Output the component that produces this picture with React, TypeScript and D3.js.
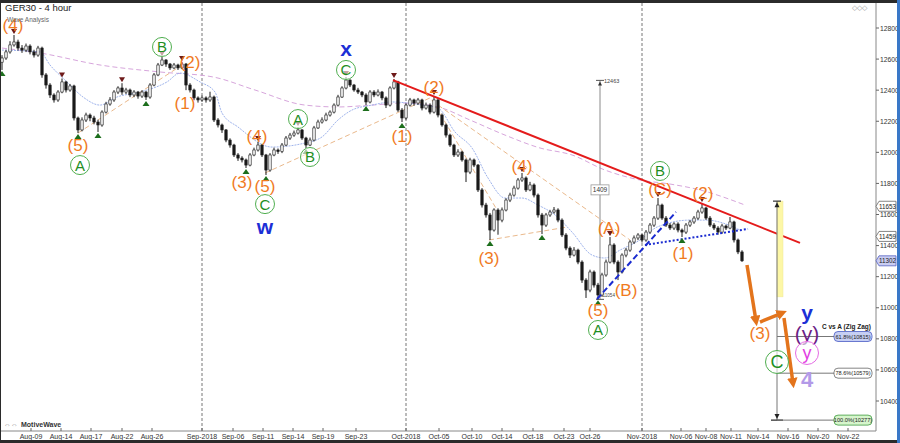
import React from 'react';
import * as d3 from 'd3';

const W = 900;
const H = 443;

// ---- candle data (4h bars, one entry per plotted bar) ----
const firstOpen = 12580;
const closes = [
  12607, 12646, 12691, 12710, 12671, 12658, 12684, 12646, 12626, 12671,
  12498, 12433, 12369, 12337, 12388, 12453, 12401, 12427, 12221, 12144,
  12208, 12240, 12221, 12195, 12176, 12259, 12311, 12337, 12388, 12414,
  12388, 12401, 12369, 12388, 12362, 12388, 12356, 12433, 12498, 12562,
  12594, 12568, 12543, 12562, 12543, 12568, 12433, 12401, 12350, 12337,
  12350, 12337, 12356, 12208, 12176, 12144, 12079, 12047, 11983, 11963,
  11951, 11918, 11983, 12015, 12047, 11983, 11886, 11983, 12015, 12005,
  12047, 12092, 12111, 12124, 12144, 12092, 12047, 12079, 12157, 12195,
  12208, 12240, 12259, 12304, 12356, 12414, 12465, 12433, 12401, 12388,
  12369, 12324, 12388, 12369, 12388, 12350, 12304, 12414, 12453, 12272,
  12221, 12304, 12337, 12317, 12337, 12285, 12304, 12259, 12337, 12240,
  12176, 12111, 12047, 11983, 12002, 11951, 11873, 11951, 11918, 11758,
  11661, 11597, 11500, 11629, 11564, 11629, 11693, 11725, 11770, 11822,
  11835, 11758, 11790, 11725, 11597, 11532, 11597, 11616, 11629, 11564,
  11468, 11384, 11339, 11371, 11294, 11178, 11114, 11230, 11146, 11082,
  11211, 11294, 11404, 11294, 11230, 11339, 11371, 11423, 11449, 11468,
  11436, 11487, 11532, 11577, 11661, 11577, 11532, 11513, 11539, 11500,
  11487, 11532, 11552, 11577, 11616, 11642, 11577, 11532, 11513, 11487,
  11526, 11513, 11552, 11436, 11359, 11302,
];
const highs = [
  12625, 12660, 12715, 12755, 12725, 12690, 12700, 12695, 12660, 12685,
  12680, 12510, 12445, 12380, 12400, 12475, 12460, 12440, 12435, 12230,
  12225, 12255, 12250, 12235, 12210, 12270, 12325, 12355, 12400, 12425,
  12445, 12415, 12410, 12400, 12395, 12400, 12395, 12445, 12510, 12575,
  12613, 12600, 12575, 12575, 12570, 12581, 12575, 12445, 12410, 12360,
  12365, 12360, 12390, 12365, 12220, 12185, 12150, 12090, 12055, 11995,
  11975, 11960, 11995, 12030, 12066, 12055, 11990, 11995, 12030, 12025,
  12060, 12105, 12125, 12140, 12163, 12150, 12100, 12095, 12170, 12210,
  12225, 12255, 12270, 12315, 12370, 12425, 12485, 12470, 12440, 12415,
  12395, 12380, 12400, 12400, 12405, 12395, 12360, 12425, 12472, 12460,
  12285, 12315, 12350, 12345, 12350, 12345, 12320, 12315, 12362, 12345,
  12250, 12185, 12120, 12055, 12020, 12010, 11960, 11965, 11960, 11925,
  11770, 11675, 11610, 11640, 11640, 11645, 11705, 11740, 11785, 11835,
  11867, 11845, 11810, 11800, 11735, 11610, 11610, 11630, 11648, 11640,
  11575, 11480, 11395, 11390, 11380, 11305, 11190, 11245, 11240, 11160,
  11225, 11310, 11455, 11415, 11305, 11350, 11385, 11435, 11465, 11480,
  11475, 11500, 11545, 11590, 11706, 11670, 11590, 11545, 11550, 11550,
  11510, 11545, 11565, 11590, 11630, 11674, 11650, 11590, 11545, 11525,
  11540, 11535, 11584, 11560, 11445, 11370,
];
const lows = [
  12530, 12595, 12635, 12680, 12655, 12640, 12645, 12630, 12610, 12615,
  12480, 12410, 12350, 12320, 12325, 12380, 12385, 12390, 12205, 12124,
  12135, 12195, 12200, 12180, 12131, 12165, 12250, 12300, 12325, 12375,
  12370, 12375, 12355, 12355, 12345, 12350, 12337, 12345, 12425, 12490,
  12555, 12550, 12530, 12535, 12530, 12535, 12400, 12385, 12335, 12320,
  12325, 12320, 12325, 12195, 12160, 12125, 12065, 12030, 11970, 11945,
  11935, 11899, 11910, 11975, 12005, 11970, 11854, 11875, 11975, 11990,
  11995, 12040, 12080, 12100, 12115, 12080, 12028, 12040, 12070, 12150,
  12185, 12200, 12230, 12250, 12295, 12350, 12405, 12420, 12390, 12375,
  12355, 12304, 12315, 12355, 12360, 12335, 12285, 12295, 12405, 12260,
  12195, 12210, 12295, 12300, 12305, 12270, 12275, 12245, 12250, 12225,
  12165, 12095, 12035, 11970, 11970, 11940, 11809, 11860, 11905, 11745,
  11645, 11580, 11436, 11490, 11470, 11550, 11620, 11680, 11715, 11760,
  11810, 11745, 11750, 11710, 11580, 11474, 11520, 11585, 11605, 11550,
  11455, 11370, 11320, 11330, 11280, 11160, 11063, 11100, 11130, 11054,
  11070, 11200, 11285, 11280, 11178, 11220, 11325, 11360, 11410, 11435,
  11420, 11425, 11475, 11520, 11565, 11565, 11520, 11500, 11500, 11485,
  11455, 11475, 11520, 11540, 11565, 11605, 11565, 11520, 11500, 11470,
  11475, 11500, 11505, 11420, 11345, 11295,
];

// ---- axes ----
const yTicks = [10400, 10600, 10800, 11000, 11200, 11400, 11600, 11800, 12000, 12200, 12400, 12600, 12800];
const xTickLabels = ['Aug-09', 'Aug-14', 'Aug-17', 'Aug-22', 'Aug-26', 'Sep-2018', 'Sep-06', 'Sep-11', 'Sep-14', 'Sep-19', 'Sep-23', 'Oct-2018', 'Oct-05', 'Oct-10', 'Oct-14', 'Oct-18', 'Oct-23', 'Oct-26', 'Nov-2018', 'Nov-06', 'Nov-08', 'Nov-11', 'Nov-14', 'Nov-16', 'Nov-20', 'Nov-22'];
const xTickBars = [7.25, 14.75, 22.25, 30, 37.5, 50, 57.75, 65.25, 72.75, 80.25, 88.5, 101, 109.25, 117.5, 125, 132.75, 140.5, 147, 160, 169.75, 176, 182.25, 189, 196.5, 204, 211.5];
const monthBars = [50, 101, 160];

// ---- moving averages ----
const maSlowBars = [0, 9.5, 24.5, 39.5, 52.75, 63.25, 75.75, 84, 92.5, 100.75, 109, 117, 125.75, 134.5, 142.5, 150.75, 159.5, 167, 174.5, 185.75];
const maSlowVals = [12671, 12639, 12562, 12517, 12485, 12401, 12304, 12292, 12304, 12317, 12292, 12208, 12111, 12028, 11983, 11886, 11822, 11796, 11758, 11661];
const maFastBars = [0, 9.5, 12, 16.25, 20.25, 24.5, 28.75, 34.5, 41.25, 44.5, 49.5, 53.25, 55, 59, 67.5, 75.75, 80, 84, 87.5, 92.5, 97.5, 105, 109, 113.25, 117.5, 121.5, 125.75, 130, 134, 138.25, 142.5, 147.5, 150.75, 154.5, 159.5, 163.75, 172, 176.25, 180.25, 184.5];
const maFastVals = [12658, 12646, 12562, 12453, 12356, 12304, 12356, 12388, 12453, 12510, 12453, 12388, 12253, 12163, 12034, 12060, 12099, 12208, 12272, 12304, 12324, 12304, 12285, 12131, 12028, 11835, 11706, 11706, 11661, 11597, 11487, 11339, 11320, 11371, 11436, 11519, 11564, 11564, 11545, 11500];

// ---- helper trend lines [bar0, price0, bar1, price1] ----
const helperLines = [
  [19, 12124, 45, 12562],
  [65.75, 11867, 107, 12350],
  [107.5, 12337, 124.5, 11597],
  [109, 12304, 157, 11436],
  [121.75, 11436, 141.5, 11520],
];
const redTrend = [97.75, 12465, 199.5, 11417];
const blueDashTrend = [148.75, 11056, 168.5, 11616];
const blueDotTrend = [160.75, 11404, 186.5, 11507];

// ---- pivot markers ----
const highMarkerBars = [3, 15, 30, 40, 45, 64, 74, 86, 98, 108, 130, 152, 164, 175];
const lowMarkerBars = [0, 19, 24, 36, 61, 66, 76, 91, 100, 122, 135, 149, 170];

// ---- wave labels: text, bar, price, style ----
const waveTexts = ['(4)', '(5)', 'A', 'B', '(2)', '(1)', '(3)', '(4)', '(5)', 'C', 'w', 'A', 'B', 'C', 'x', '(1)', '(2)', '(3)', '(4)', '(5)', 'A', '(A)', '(B)', 'B', '(C)', '(1)', '(2)', '(3)', 'y', '(y)', 'y', 'C', '4'];
const waveBars = [2.75, 19, 19.5, 40, 47, 45.75, 60, 63.75, 65.75, 65.75, 65.75, 74, 77, 86, 86, 100, 108, 121.75, 130, 149, 149, 151.75, 156, 164.5, 164.5, 170.25, 175.25, 189.5, 201.25, 201.25, 201.25, 193.75, 201.25];
const wavePrices = [12813, 12041, 11918, 12678, 12581, 12317, 11803, 12105, 11783, 11667, 11526, 12214, 11970, 12530, 12665, 12105, 12414, 11320, 11912, 10985, 10857, 11513, 11114, 11880, 11758, 11352, 11738, 10837, 10972, 10837, 10709, 10651, 10541];
const waveStyles = ['o', 'o', 'g', 'g', 'o', 'o', 'o', 'o', 'o', 'g', 'b', 'g', 'g', 'g', 'b', 'o', 'o', 'o', 'o', 'o', 'g', 'o', 'o', 'g', 'o', 'o', 'o', 'o', 'b', 'p', 'm', 'G', 'l'];

// ---- measurement / projection ----
const measureBar = 149.5;
const measureTop = 12463;
const measureLow = 11054;
const projBar = 193.75;
const projTop = 11686;
const projYellowLow = 11070;
const fibLevels = [10815, 10579, 10277];
const fibTexts = ['61.8%(10815)', '78.6%(10579)', '100.0%(10277)'];
const axisTags = [11653, 11459, 11302];
const arrowPaths = [
  [186.25, 11275, 188.5, 10915],
  [189.5, 10908, 195.0, 10966],
  [195.5, 10934, 197.75, 10515],
];

const FONT = 'Arial, "Liberation Sans", sans-serif';

export default function App() {
  const x = d3.scaleLinear().domain([0, 218]).range([2, 874]);
  const y = d3.scaleLinear().domain([10400, 12800]).range([401, 28]);
  const plotRight = 876;
  const axisY = 431;

  const candles = closes.map((c, i) => ({
    i,
    o: i === 0 ? firstOpen : closes[i - 1],
    c,
    h: highs[i],
    l: lows[i],
  }));

  const line = d3
    .line<[number, number]>()
    .x((d) => x(d[0]))
    .y((d) => y(d[1]))
    .curve(d3.curveMonotoneX);

  const slowPts = maSlowBars.map((b, i) => [b, maSlowVals[i]] as [number, number]);
  const fastPts = maFastBars.map((b, i) => [b, maFastVals[i]] as [number, number]);

  const seg = (s: number[]) => ({ x1: x(s[0]), y1: y(s[1]), x2: x(s[2]), y2: y(s[3]) });

  const styleOf = (s: string) => {
    switch (s) {
      case 'o':
        return { fill: '#f07a1e', size: 17, weight: 400 };
      case 'g':
        return { fill: '#1f8f1f', size: 15, weight: 400 };
      case 'G':
        return { fill: '#1f8f1f', size: 18, weight: 400 };
      case 'b':
        return { fill: '#1c2fd6', size: 21, weight: 700 };
      case 'p':
        return { fill: '#6b1f86', size: 21, weight: 400 };
      case 'm':
        return { fill: '#e23ee2', size: 18, weight: 400 };
      default:
        return { fill: '#b39ae8', size: 22, weight: 700 };
    }
  };

  return (
    <svg
      width={W}
      height={H}
      viewBox={`0 0 ${W} ${H}`}
      style={{ position: 'absolute', left: 0, top: 0, background: '#fff', fontFamily: FONT }}
    >
      <defs>
        <clipPath id="plot">
          <rect x={0} y={3} width={plotRight} height={axisY - 3} />
        </clipPath>
        <marker id="arrowO" viewBox="0 0 10 10" refX="5" refY="5" markerWidth="3" markerHeight="3" orient="auto">
          <path d="M0,0 L10,5 L0,10 z" fill="#e3741c" />
        </marker>
      </defs>
      <rect x={0} y={0} width={W} height={H} fill="#fff" />

      {/* month separators */}
      {monthBars.map((b) => (
        <line key={b} x1={x(b)} x2={x(b)} y1={3} y2={axisY} stroke="#777" strokeDasharray="3,2" strokeWidth={1} />
      ))}

      <g clipPath="url(#plot)">
        {/* moving averages */}
        <path d={line(slowPts) || ''} fill="none" stroke="#d7a6dc" strokeWidth={1} strokeDasharray="5,3" />
        <path d={line(fastPts) || ''} fill="none" stroke="#9fb4ec" strokeWidth={1} strokeDasharray="2,1" />
        {helperLines.map((s, k) => (
          <line key={k} {...seg(s)} stroke="#eab98c" strokeWidth={1} strokeDasharray="5,3" />
        ))}

        {/* measurement line */}
        <line x1={x(measureBar)} x2={x(measureBar)} y1={y(measureTop)} y2={y(measureLow)} stroke="#8a8a8a" strokeWidth={1} />
        <line x1={x(measureBar) - 4} x2={x(measureBar) + 4} y1={y(measureTop)} y2={y(measureTop)} stroke="#555" strokeWidth={1} />
        <path d={`M${x(measureBar) - 2},${y(measureTop) + 5} L${x(measureBar) + 2},${y(measureTop) + 5} L${x(measureBar)},${y(measureTop) + 1} z`} fill="#333" />
        <line x1={x(measureBar) - 4} x2={x(measureBar) + 4} y1={y(measureLow)} y2={y(measureLow)} stroke="#555" strokeWidth={1} />
        <text x={x(measureBar) + 4} y={y(measureTop) + 3} fontSize={5.5} fill="#444">{measureTop}</text>
        <text x={x(measureBar) + 2.5} y={y(measureLow) - 2.5} fontSize={4.6} fill="#444">{measureLow}</text>
        <rect x={x(measureBar) - 9} y={y((measureTop + measureLow) / 2) - 5} width={18} height={10} fill="#fff" stroke="#999" strokeWidth={0.8} />
        <text x={x(measureBar)} y={y((measureTop + measureLow) / 2) + 2.5} fontSize={6.5} fill="#333" textAnchor="middle">
          {measureTop - measureLow}
        </text>

        {/* candles */}
        {candles.map((d) => {
          const cx = x(d.i);
          const up = d.c >= d.o;
          const top = y(Math.max(d.o, d.c));
          const bot = y(Math.min(d.o, d.c));
          return (
            <g key={d.i}>
              <line x1={cx} x2={cx} y1={y(d.h)} y2={y(d.l)} stroke="#1a1a1a" strokeWidth={1} />
              <rect
                x={cx - 1.2}
                y={top}
                width={2.4}
                height={Math.max(1, bot - top)}
                fill={up ? '#f4f4f4' : '#1a1a1a'}
                stroke="#1a1a1a"
                strokeWidth={0.6}
              />
            </g>
          );
        })}

        {/* trend lines */}
        <line {...seg(redTrend)} stroke="#e41b1b" strokeWidth={2} />
        <line {...seg(blueDashTrend)} stroke="#1a2bd0" strokeWidth={2} strokeDasharray="6,3" />
        <line {...seg(blueDotTrend)} stroke="#1a2bd0" strokeWidth={2} strokeDasharray="2,2" />

        {/* pivot markers */}
        {highMarkerBars.map((b) => (
          <path key={'h' + b} d={`M${x(b) - 3},${y(highs[b]) - 6} L${x(b) + 3},${y(highs[b]) - 6} L${x(b)},${y(highs[b]) - 1} z`} fill="#6e1a1a" />
        ))}
        {lowMarkerBars.map((b) => (
          <path key={'l' + b} d={`M${x(b) - 3.5},${y(lows[b]) + 6} L${x(b) + 3.5},${y(lows[b]) + 6} L${x(b)},${y(lows[b]) + 1} z`} fill="#1c6e1c" />
        ))}

        {/* projection */}
        <rect x={x(projBar)} y={y(projTop)} width={6} height={y(projYellowLow) - y(projTop)} fill="#fdf7a6" stroke="#eee69a" strokeWidth={0.5} />
        <line x1={x(projBar)} x2={x(projBar)} y1={y(projTop)} y2={y(fibLevels[2])} stroke="#777" strokeWidth={1} />
        <line x1={x(projBar) - 4} x2={x(projBar) + 4} y1={y(projTop)} y2={y(projTop)} stroke="#333" strokeWidth={1.2} />
        <path d={`M${x(projBar) - 2.5},${y(projTop) + 6} L${x(projBar) + 2.5},${y(projTop) + 6} L${x(projBar)},${y(projTop) + 1} z`} fill="#222" />
        <path d={`M${x(projBar) - 2.5},${y(fibLevels[2]) - 6} L${x(projBar) + 2.5},${y(fibLevels[2]) - 6} L${x(projBar)},${y(fibLevels[2]) - 1} z`} fill="#222" />
        <line x1={x(projBar) - 6} x2={x(projBar) + 6} y1={y(fibLevels[2])} y2={y(fibLevels[2])} stroke="#222" strokeWidth={1.2} />
        {fibLevels.map((f) => (
          <line key={f} x1={x(projBar)} x2={834} y1={y(f)} y2={y(f)} stroke="#777" strokeWidth={1} />
        ))}
        {fibLevels.map((f, k) => {
          const fills = ['#c6cff4', '#ffffff', '#d6f5cc'];
          const strokes = ['#4a5cc4', '#666', '#3e9a3e'];
          return (
            <g key={'fl' + f}>
              <rect x={834} y={y(f) - 5} width={38} height={10} rx={4} fill={fills[k]} stroke={strokes[k]} strokeWidth={0.8} />
              <text x={853} y={y(f) + 2.2} fontSize={5.6} textAnchor="middle" fill="#222">{fibTexts[k]}</text>
            </g>
          );
        })}
        <text x={871} y={y(fibLevels[0]) - 8} fontSize={6.5} fontWeight={700} textAnchor="end" fill="#222">C vs A (Zig Zag)</text>

        {/* orange projection arrows */}
        {arrowPaths.map((s, k) => (
          <line key={'a' + k} {...seg(s)} stroke="#e3741c" strokeWidth={3.5} markerEnd="url(#arrowO)" />
        ))}

        {/* wave labels */}
        {waveTexts.map((t, k) => {
          const st = styleOf(waveStyles[k]);
          const cx = x(waveBars[k]);
          const cy = y(wavePrices[k]);
          const circ = waveStyles[k] === 'g' || waveStyles[k] === 'G' || waveStyles[k] === 'm';
          const r = waveStyles[k] === 'g' ? 9.5 : 11.5;
          return (
            <g key={'w' + k}>
              {circ && (
                <circle cx={cx} cy={cy} r={r} fill="#fff" fillOpacity={0.6} stroke={waveStyles[k] === 'm' ? '#e46be4' : '#4fae4f'} strokeWidth={1} />
              )}
              <text
                x={cx}
                y={cy}
                fontSize={st.size}
                fontWeight={st.weight}
                fill={st.fill}
                textAnchor="middle"
                dominantBaseline="central"
              >
                {t}
              </text>
            </g>
          );
        })}
      </g>

      {/* right axis */}
      <line x1={plotRight} x2={plotRight} y1={3} y2={axisY} stroke="#888" />
      {yTicks.map((t) => (
        <g key={t}>
          <line x1={plotRight} x2={plotRight + 3} y1={y(t)} y2={y(t)} stroke="#666" />
          <text x={plotRight + 4} y={y(t) + 2.5} fontSize={6.8} fill="#333">{t}</text>
        </g>
      ))}
      {axisTags.map((v, k) => (
        <g key={'tag' + v}>
          <path
            d={`M${plotRight},${y(v)} L${plotRight + 3},${y(v) - 5} L${plotRight + 20},${y(v) - 5} L${plotRight + 20},${y(v) + 5} L${plotRight + 3},${y(v) + 5} z`}
            fill={k === 2 ? '#c9cdf2' : '#fff'}
            stroke={k === 2 ? '#5560c0' : '#666'}
            strokeWidth={0.8}
          />
          <text x={plotRight + 11.5} y={y(v) + 2.3} fontSize={6.3} textAnchor="middle" fill="#222">{v}</text>
        </g>
      ))}

      {/* bottom axis */}
      <line x1={0} x2={plotRight} y1={axisY} y2={axisY} stroke="#888" />
      {xTickBars.map((b, k) => (
        <g key={'xt' + k}>
          <line x1={x(b)} x2={x(b)} y1={axisY - 3} y2={axisY} stroke="#666" />
          <text x={x(b)} y={axisY + 7.5} fontSize={7} textAnchor="middle" fill="#333">{xTickLabels[k]}</text>
        </g>
      ))}

      {/* titles */}
      <text x={5} y={10.5} fontSize={9.5} fill="#222">GER30 - 4 hour</text>
      <text x={7} y={22} fontSize={6.5} fill="#666">Wave Analysis</text>
      <text x={4} y={427} fontSize={7} fill="#888">⇔⇔</text>
      <text x={21} y={427} fontSize={7} fontWeight={700} fill="#333">MotiveWave</text>
      <text x={852} y={10} fontSize={7} fill="#999">◇◇◇</text>

      {/* frame */}
      <rect x={0} y={0} width={W} height={3} fill="#2b2b2b" />
      <rect x={0} y={440} width={W} height={3} fill="#2b2b2b" />
      <rect x={0} y={0} width={1} height={H} fill="#2b2b2b" />
      <rect x={897} y={0} width={3} height={H} fill="#3a78c8" />
    </svg>
  );
}
